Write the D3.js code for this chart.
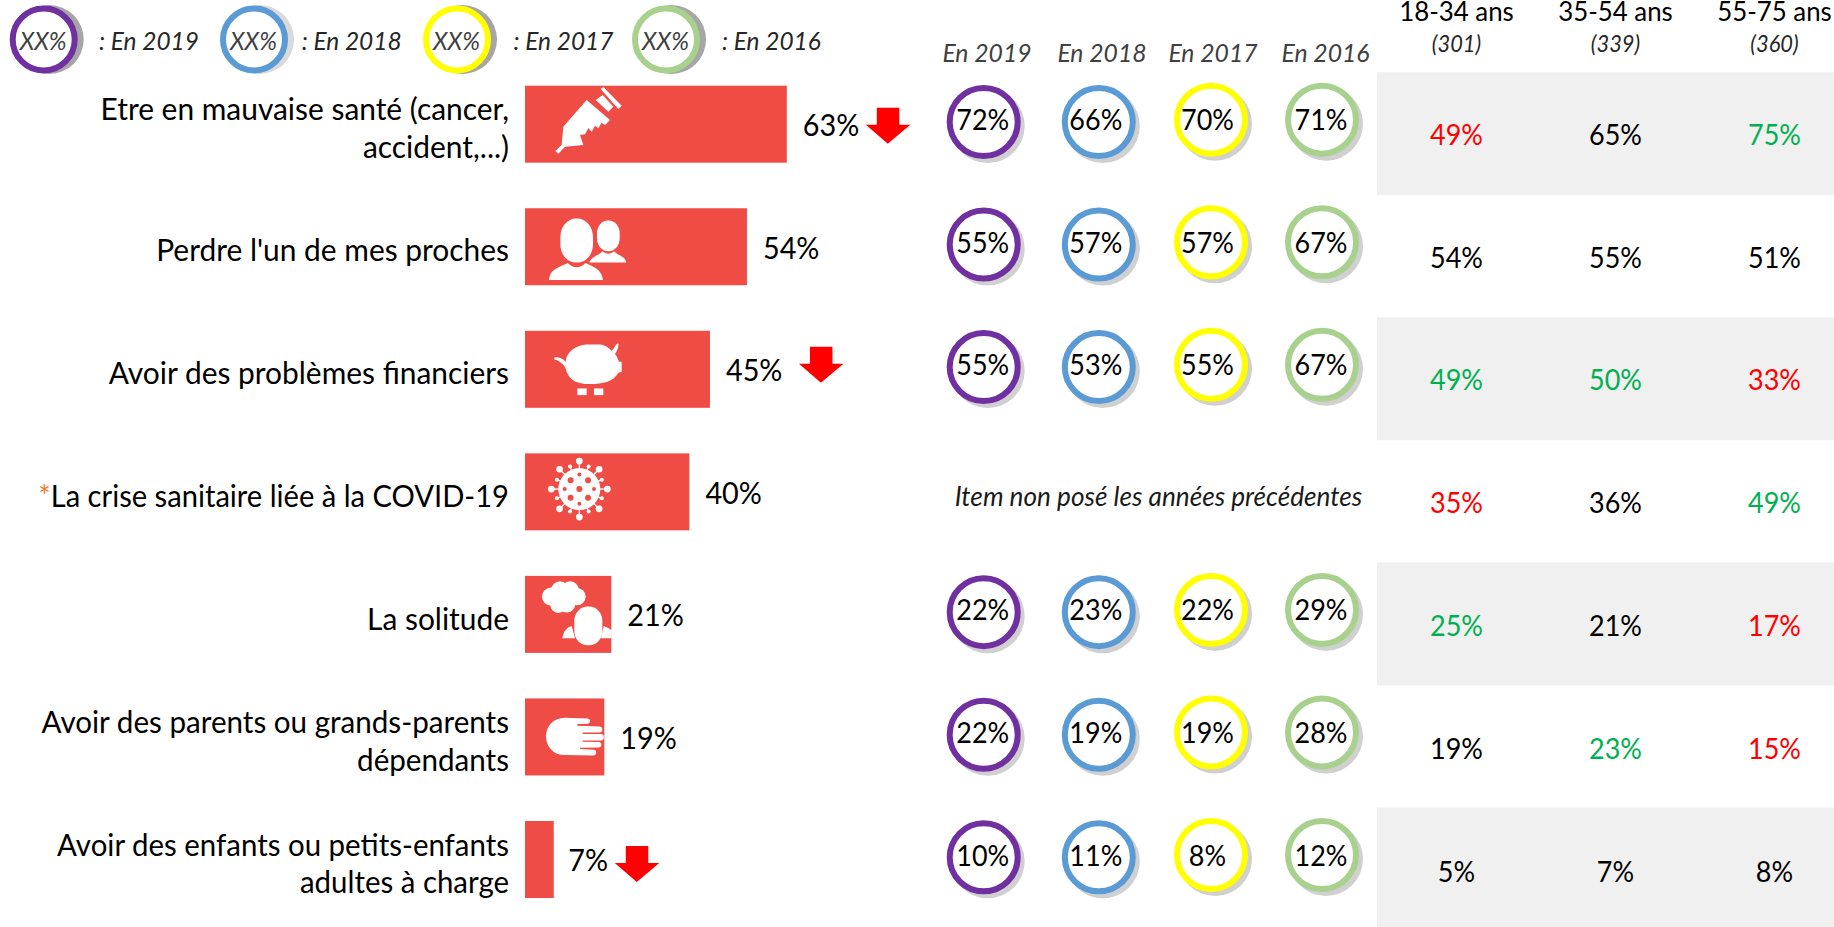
<!DOCTYPE html>
<html><head><meta charset="utf-8">
<script src="https://cdn.jsdelivr.net/npm/d3@7"></script>
<style>html,body{margin:0;padding:0;background:#fff;overflow:hidden}svg{display:block}text{font-family:Lato,"Open Sans",sans-serif}</style>
</head><body><svg id="c" width="1834" height="927"></svg>
<script>
const labelLines = [
  ["Etre en mauvaise santé (cancer,", "accident,...)"],
  ["Perdre l'un de mes proches"],
  ["Avoir des problèmes financiers"],
  ["La crise sanitaire liée à la COVID-19"],
  ["La solitude"],
  ["Avoir des parents ou grands-parents", "dépendants"],
  ["Avoir des enfants ou petits-enfants", "adultes à charge"]
];
const total2020 = [63.7, 54, 45, 40, 21, 19.3, 7];
const downArrow = [true, false, true, false, false, false, true];
const years = ["En 2019", "En 2018", "En 2017", "En 2016"];
const yearColors = ["#7030a0", "#5b9bd5", "#ffff00", "#a9d18e"];
const legendShadow = ["#a6a6a6", "#d9d9d9", "#a6a6a6", "#a6a6a6"];
const values2019 = [72, 55, 55, null, 22, 22, 10];
const values2018 = [66, 57, 53, null, 23, 19, 11];
const values2017 = [70, 57, 55, null, 22, 19, 8];
const values2016 = [71, 67, 67, null, 29, 28, 12];
const ageGroups = ["18-34 ans", "35-54 ans", "55-75 ans"];
const ageBases = ["(301)", "(339)", "(360)"];
const age1834 = [49, 54, 49, 35, 25, 19, 5];
const age3554 = [65, 55, 50, 36, 21, 23, 7];
const age5575 = [75, 51, 33, 49, 17, 15, 8];
const sig1834 = ["-", "", "+", "-", "+", "", ""];
const sig3554 = ["", "", "+", "", "", "+", ""];
const sig5575 = ["+", "", "-", "+", "-", "-", ""];
const noItemNote = "Item non posé les années précédentes";

const svg = d3.select("#c");
const BAR = "#ef4c46", RED = "#ff0000", GREEN = "#00b050";
const x = d3.scaleLinear().domain([0, 100]).range([525, 936]);
const rowTop = d3.scaleLinear().domain([0, 6]).range([85.7, 821]);
const barH = 77;
const yearX = d3.scaleOrdinal().domain(years).range([983.7, 1098.8, 1211, 1322]);
const yearHeadX = d3.scaleOrdinal().domain(years).range([987, 1102, 1213, 1325.5]);
const ageX = d3.scaleOrdinal().domain(ageGroups).range([1456.5, 1615.5, 1774.5]);
const K = 0.93;

function txt(parent, s, px, py, opt = {}) {
  const t = parent.append("text")
    .attr("transform", `translate(${px},${py}) scale(${opt.k || K},1)`)
    .attr("text-anchor", opt.anchor || "middle")
    .attr("font-size", opt.size || 29)
    .attr("font-style", opt.italic ? "italic" : "normal")
    .attr("fill", opt.fill || "#000");
  if (s !== null) t.text(s);
  return t;
}

// bandes grises
svg.append("g").selectAll("rect").data(d3.range(0, 7, 2)).join("rect")
  .attr("x", 1377).attr("width", 457)
  .attr("y", i => rowTop(i) - 13.5).attr("height", 123).attr("fill", "#f0f0f0");

// légende
const legX = [43.7, 254, 457, 666];
const legTextX = [99, 301.7, 513.5, 722];
years.forEach((yr, j) => {
  const g = svg.append("g");
  g.append("circle").attr("cx", legX[j] + 5.5).attr("cy", 39.5).attr("r", 34.5).attr("fill", legendShadow[j]);
  g.append("circle").attr("cx", legX[j]).attr("cy", 39.5).attr("r", 31).attr("fill", "#fff")
    .attr("stroke", yearColors[j]).attr("stroke-width", 6);
  txt(g, "XX%", legX[j] - 0.5, 50, {italic: true, fill: "#404040", size: 26, k: 0.92});
  txt(g, ": " + yr, legTextX[j], 50, {italic: true, fill: "#262626", anchor: "start", size: 26, k: 0.94});
  txt(svg, yr, yearHeadX(yr), 62, {italic: true, fill: "#404040", size: 25.5, k: 0.97});
});

// en-têtes âges
ageGroups.forEach((a, j) => {
  txt(svg, a, ageX(a), 20.5, {size: 27.5, k: 0.94});
  txt(svg, ageBases[j], ageX(a), 52, {italic: true, fill: "#262626", size: 23.5, k: 0.93});
});

// libellés
const labelK = [0.965, 0.965, 0.965, 0.94, 0.965, 0.955, 0.95];
labelLines.forEach((lines, i) => {
  const yy = [120, 261, 384, 506.5, 630, 733, 855.5][i];
  lines.forEach((l, n) => {
    const t = txt(svg, null, 509, yy + n * 37.6, {anchor: "end", size: 31, k: labelK[i]});
    if (i === 3) t.append("tspan").attr("fill", "#ed7d31").text("*");
    t.append("tspan").text(l);
  });
});

// barres
svg.append("g").selectAll("rect").data(total2020).join("rect")
  .attr("x", x(0)).attr("y", (d, i) => rowTop(i))
  .attr("width", d => x(d) - x(0)).attr("height", barH).attr("fill", BAR);

// valeurs barres
total2020.forEach((d, i) => {
  txt(svg, Math.floor(d) + "%", x(d) + (i === 6 ? 14.5 : 16), rowTop(i) + 50.3, {anchor: "start", size: 30, k: 0.96});
});

// flèches
const arrowLayout = [[79, 22], null, [89, 16], null, null, null, [61, 25]];
total2020.forEach((d, i) => {
  if (!downArrow[i]) return;
  const [dx, dy] = arrowLayout[i];
  svg.append("path")
    .attr("transform", `translate(${x(d) + dx},${rowTop(i) + dy})`)
    .attr("d", "M11,0H33.5V17H44.5L22,36L0,17H11Z").attr("fill", RED);
});

// anneaux
const ringData = [values2019, values2018, values2017, values2016];
const ringDy = [36.3, 36.3, 34, 34];
const ringTextDx = [-1, -3, -3.5, -1];
years.forEach((yr, j) => {
  ringData[j].forEach((v, i) => {
    if (v === null) return;
    const cy = rowTop(i) + ringDy[j], cx = yearX(yr);
    const g = svg.append("g");
    g.append("circle").attr("cx", cx + 4).attr("cy", cy + 4).attr("r", 37).attr("fill", "#d0d0d0");
    g.append("circle").attr("cx", cx).attr("cy", cy).attr("r", 34).attr("fill", "#fff")
      .attr("stroke", yearColors[j]).attr("stroke-width", 6);
    txt(g, v + "%", cx + ringTextDx[j], rowTop(i) + 44.5);
  });
});
txt(svg, noItemNote, 1158.5, 506, {italic: true, fill: "#1a1a1a", size: 27, k: 0.97});

// colonnes âge
[[age1834, sig1834], [age3554, sig3554], [age5575, sig5575]].forEach(([vals, sig], j) => {
  vals.forEach((v, i) => {
    const fill = sig[i] === "+" ? GREEN : sig[i] === "-" ? RED : "#000";
    txt(svg, v + "%", ageX(ageGroups[j]), rowTop(i) + 59 + i * 0.3, {fill});
  });
});

// pictogrammes (dessinés relativement à leur barre, à l'échelle 1/3)
function icon(i, dx, dy) {
  return svg.append("g").attr("fill", "#fff")
    .attr("transform", `translate(${x(0) + dx},${rowTop(i) + dy}) scale(${1/3})`);
}
let ic = icon(0, 5, -0.7);
ic.append("path").attr("d", "M76,198L95,180L100,125L170,45L240,105L225,120L215,113L205,130L195,122L185,140L175,130L165,148L150,150L160,180L105,185L85,206Z");
ic.append("path").attr("d", "M197,45L218,30L250,65L235,80Z");
ic.append("path").attr("d", "M212,12L220,6L275,62L265,72Z");

ic = icon(1, 5, -123);
ic.append("rect").attr("x", 91).attr("y", 400).attr("width", 98).attr("height", 132).attr("rx", 47).attr("ry", 55);
ic.append("path").attr("d", "M57,584C60,550 90,545 113,533C130,550 150,550 167,533C190,545 215,550 219,584Z");
ic.append("rect").attr("x", 201).attr("y", 406).attr("width", 68).attr("height", 92).attr("rx", 33).attr("ry", 38);
ic.append("path").attr("d", "M178,532C185,512 205,512 218,498C228,508 242,508 252,498C265,512 285,512 289,532H190Z");

ic = icon(2, -25, -30.7);
ic.append("path").attr("d", "M163,172C180,170 190,178 197,185C200,150 235,133 265,133L300,133C315,133 328,145 335,152C343,145 345,135 352,130L356,132C355,145 350,155 345,162C352,170 355,180 357,185L365,185L365,215L355,218C340,245 310,252 270,252C230,252 205,240 197,205C190,190 175,180 163,178Z");
ic.append("rect").attr("x", 232).attr("y", 265).attr("width", 28).attr("height", 20);
ic.append("rect").attr("x", 282).attr("y", 265).attr("width", 28).attr("height", 20);

ic = icon(3, -25, -153.3);
const vc = [238, 567];
ic.append("circle").attr("cx", vc[0]).attr("cy", vc[1]).attr("r", 63);
d3.range(16).forEach(k => {
  const a = k * Math.PI / 8, long = k % 2 === 0;
  const rr = long ? 84 : 73;
  const ex = vc[0] + rr * Math.cos(a), ey = vc[1] + rr * Math.sin(a);
  ic.append("line").attr("x1", vc[0]).attr("y1", vc[1]).attr("x2", ex).attr("y2", ey)
    .attr("stroke", "#fff").attr("stroke-width", 4);
  ic.append("circle").attr("cx", ex).attr("cy", ey).attr("r", long ? 10 : 6);
});
ic.append("circle").attr("cx", vc[0]).attr("cy", vc[1]).attr("r", 9).attr("fill", BAR);
d3.range(8).forEach(k => {
  const a = k * Math.PI / 4, diag = k % 2 === 1, rr = diag ? 37 : 44;
  ic.append("circle").attr("cx", vc[0] + rr * Math.cos(a)).attr("cy", vc[1] + rr * Math.sin(a))
    .attr("r", diag ? 9 : 6).attr("fill", BAR);
});

ic = icon(4, 0, -6);
[[78,80,27],[105,60,26],[135,60,26],[156,80,26],[125,102,26],[100,105,24],[115,80,30]].forEach(c =>
  ic.append("circle").attr("cx", c[0]).attr("cy", c[1]).attr("r", c[2]));
ic.append("rect").attr("x", 148).attr("y", 110).attr("width", 84).attr("height", 116).attr("rx", 40).attr("ry", 42);
ic.append("path").attr("d", "M112,205C115,185 125,172 140,168L150,205Z");
ic.append("path").attr("d", "M236,168C245,172 255,176 260,181L260,205L228,205Z");

ic = icon(5, -25, -18.7);
ic.append("path").attr("d", "M195,114L262,116a8,8 0 0 1 0,16L232,133L232,138L298,140a9,9 0 0 1 0,18L248,158L248,163L302,163a9,9 0 0 1 0,19L248,182L248,186L296,187a8,8 0 0 1 0,16L240,204L240,208L280,210a8,8 0 0 1 0,17L195,226C160,226 138,200 138,170C138,140 160,114 195,114Z");
</script></body></html>
